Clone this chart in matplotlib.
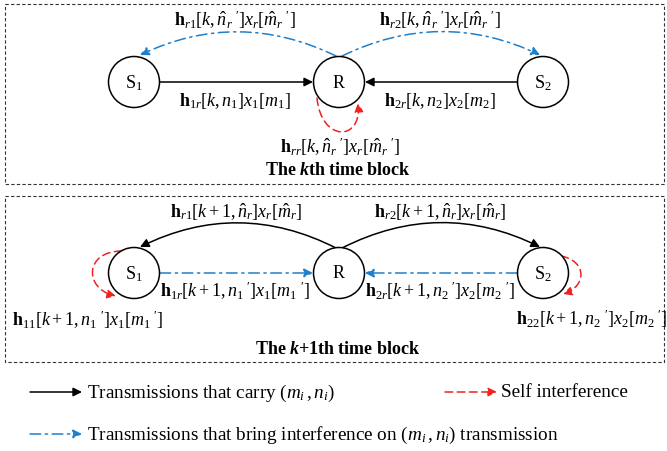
import matplotlib
matplotlib.use('Agg')
import matplotlib.pyplot as plt
from matplotlib.patches import Circle, Rectangle, FancyArrowPatch
from matplotlib.path import Path

plt.rcParams['font.family'] = 'Liberation Serif'
plt.rcParams['mathtext.fontset'] = 'custom'
plt.rcParams['mathtext.rm'] = 'Liberation Serif'
plt.rcParams['mathtext.it'] = 'Liberation Serif:italic'
plt.rcParams['mathtext.bf'] = 'Liberation Serif:bold'
plt.rcParams['mathtext.bfit'] = 'Liberation Serif:bold:italic'

BLUE = '#1f7fca'
RED = '#ee2222'
DASHDOT = (0, (7, 3, 1.5, 3))
DASHED = (0, (5, 3))

# node names
nodes = ['S$_1$', 'R', 'S$_2$']

# labels of the k-th block
top_labels = [
    r'$\mathbf{h}_{r1}[k,\hat{n}_r\;{}^{\prime}]x_r[\hat{m}_r\;{}^{\prime}]$',
    r'$\mathbf{h}_{r2}[k,\hat{n}_r\;{}^{\prime}]x_r[\hat{m}_r\;{}^{\prime}]$',
    r'$\mathbf{h}_{1r}[k,n_1]x_1[m_1]$',
    r'$\mathbf{h}_{2r}[k,n_2]x_2[m_2]$',
    r'$\mathbf{h}_{rr}[k,\hat{n}_r\;{}^{\prime}]x_r[\hat{m}_r\;{}^{\prime}]$',
]
# labels of the (k+1)-th block
bottom_labels = [
    r'$\mathbf{h}_{r1}[k+1,\hat{n}_r]x_r[\hat{m}_r]$',
    r'$\mathbf{h}_{r2}[k+1,\hat{n}_r]x_r[\hat{m}_r]$',
    r'$\mathbf{h}_{1r}[k+1,n_1\;{}^{\prime}]x_1[m_1\;{}^{\prime}]$',
    r'$\mathbf{h}_{2r}[k+1,n_2\;{}^{\prime}]x_2[m_2\;{}^{\prime}]$',
    r'$\mathbf{h}_{11}[k+1,n_1\;{}^{\prime}]x_1[m_1\;{}^{\prime}]$',
    r'$\mathbf{h}_{22}[k+1,n_2\;{}^{\prime}]x_2[m_2\;{}^{\prime}]$',
]
block_titles = [r'$\mathbf{The}\ \mathbfit{k}\mathbf{th\ time\ block}$',
                r'$\mathbf{The}\ \mathbfit{k}\mathbf{+1th\ time\ block}$']
legend_texts = [r'Transmissions that carry $(m_i\,,n_i)$',
                'Self interference',
                r'Transmissions that bring interference on $(m_i\,,n_i)$ transmission']

fig = plt.figure(figsize=(6.67, 4.52), dpi=100)
ax = fig.add_axes([0, 0, 1, 1])
ax.set_xlim(0, 667)
ax.set_ylim(452, 0)
ax.axis('off')

FS = 13
LFS = 13.8
xs = [134, 339, 543]
R0 = 25.5


def arrow(p, q, color='black', ls='-', rad=0.0, z=3):
    a = FancyArrowPatch(p, q, arrowstyle='-|>', mutation_scale=13,
                        connectionstyle='arc3,rad=%s' % rad, color=color,
                        linestyle=ls, lw=1.1, shrinkA=0, shrinkB=0, zorder=z)
    ax.add_patch(a)


def self_loop(pts):
    # cubic bezier loop with arrow head at the end
    path = Path(pts, [Path.MOVETO, Path.CURVE4, Path.CURVE4, Path.CURVE4])
    a = FancyArrowPatch(path=path, arrowstyle='-|>', mutation_scale=13,
                        color=RED, linestyle=DASHED, lw=1.1, zorder=3)
    ax.add_patch(a)


def draw_nodes(y):
    for x, name in zip(xs, nodes):
        ax.add_patch(Circle((x, y), R0, facecolor='white', edgecolor='black', lw=1.1, zorder=4))
        ax.text(x, y, name, fontsize=FS, ha='center', va='center', zorder=5)


# boxes
ax.add_patch(Rectangle((5, 5), 659, 180, fill=False, ls=(0, (3, 2)), lw=0.8, ec='#333333'))
ax.add_patch(Rectangle((5, 197), 659, 166, fill=False, ls=(0, (3, 2)), lw=0.8, ec='#333333'))

# k-th block
y1 = 83
arrow((160, y1), (313, y1))
arrow((517, y1), (365, y1))
arrow((336, 57), (140, 56), color=BLUE, ls=DASHDOT, rad=0.24)
arrow((342, 57), (540, 56), color=BLUE, ls=DASHDOT, rad=-0.24)
self_loop([(317, 99), (321, 143), (362, 143), (358, 104)])
draw_nodes(y1)
ax.text(235, 20, top_labels[0], fontsize=FS, ha='center', va='center')
ax.text(440, 20, top_labels[1], fontsize=FS, ha='center', va='center')
ax.text(235, 101, top_labels[2], fontsize=FS, ha='center', va='center')
ax.text(440, 101, top_labels[3], fontsize=FS, ha='center', va='center')
ax.text(340, 147, top_labels[4], fontsize=FS, ha='center', va='center')
ax.text(338, 171, block_titles[0], fontsize=FS, ha='center', va='center')

# (k+1)-th block
y2 = 274
arrow((336, 249), (140, 248), rad=0.25)
arrow((342, 249), (540, 248), rad=-0.25)
arrow((160, y2), (313, y2), color=BLUE, ls=DASHDOT)
arrow((517, y2), (365, y2), color=BLUE, ls=DASHDOT)
self_loop([(122, 252), (84, 252), (84, 290), (116, 297)])
self_loop([(561, 257), (587, 262), (587, 287), (563, 295)])
draw_nodes(y2)
ax.text(236, 212, bottom_labels[0], fontsize=FS, ha='center', va='center')
ax.text(440, 212, bottom_labels[1], fontsize=FS, ha='center', va='center')
ax.text(235, 291, bottom_labels[2], fontsize=FS, ha='center', va='center')
ax.text(440, 291, bottom_labels[3], fontsize=FS, ha='center', va='center')
ax.text(88, 320, bottom_labels[4], fontsize=FS, ha='center', va='center')
ax.text(592, 319, bottom_labels[5], fontsize=FS, ha='center', va='center')
ax.text(338, 350, block_titles[1], fontsize=FS, ha='center', va='center')

# legend
arrow((30, 393), (82, 393))
ax.text(87, 393, legend_texts[0], fontsize=LFS, ha='left', va='center')
arrow((445, 393), (497, 393), color=RED, ls=DASHED)
ax.text(501, 393, legend_texts[1], fontsize=LFS, ha='left', va='center')
arrow((30, 435), (82, 435), color=BLUE, ls=DASHDOT)
ax.text(87, 435, legend_texts[2], fontsize=LFS, ha='left', va='center')

fig.savefig('out.png', dpi=100)
